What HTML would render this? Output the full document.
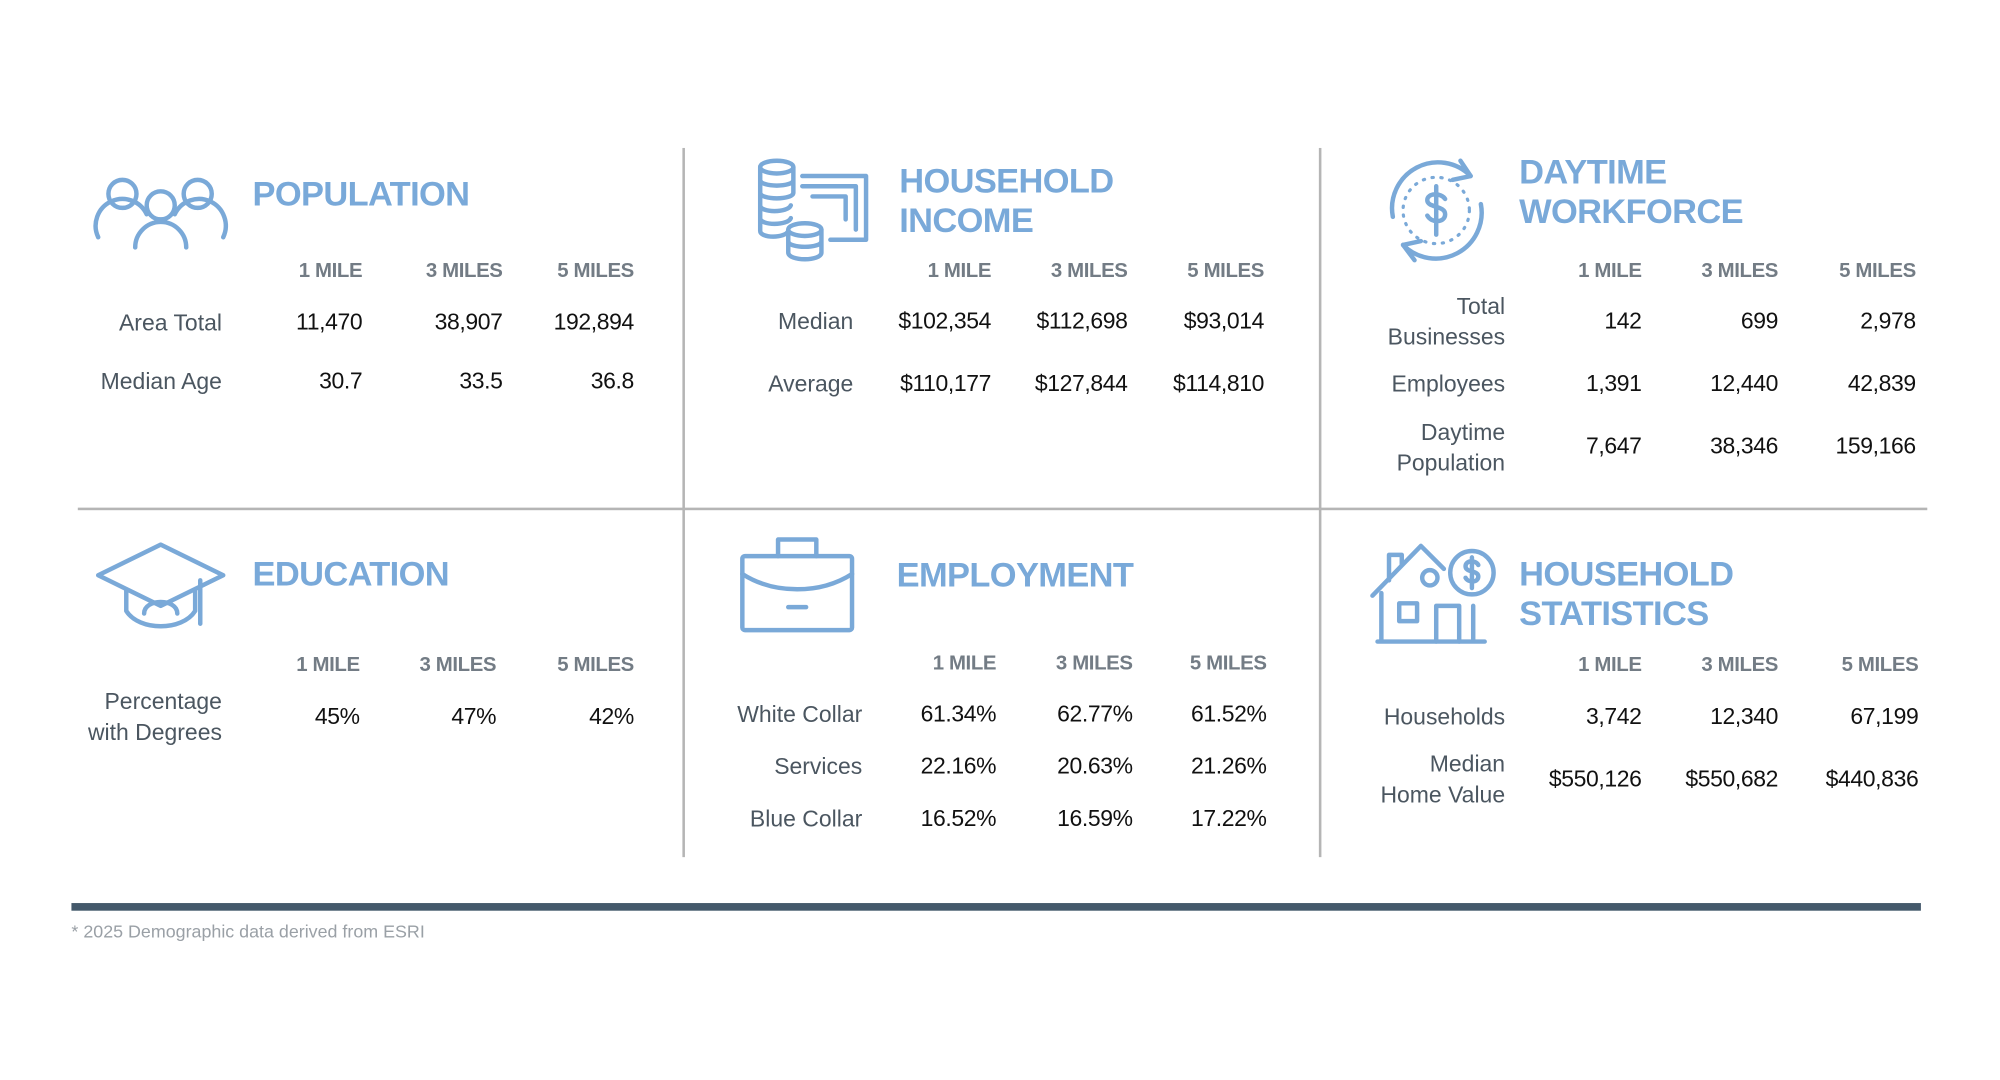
<!DOCTYPE html>
<html><head><meta charset="utf-8"><style>
html,body{margin:0;padding:0;background:#fff;}
body{width:2000px;height:1080px;overflow:hidden;position:relative;}
#w{position:absolute;left:0;top:0;width:1568px;height:847px;transform:scale(1.2755);transform-origin:0 0;font-family:"Liberation Sans",sans-serif;}
.t{position:absolute;font-weight:bold;color:#79a9d9;font-size:27px;line-height:31px;letter-spacing:-0.5px;}
.h{position:absolute;color:#737c85;font-size:16px;font-weight:bold;letter-spacing:-0.3px;transform:translate(-100%,-50%);white-space:nowrap;}
.l{position:absolute;color:#4b5660;font-size:18px;line-height:24px;text-align:right;transform:translate(-100%,-50%);white-space:nowrap;}
.v{position:absolute;color:#111;font-size:18px;transform:translate(-100%,-50%);white-space:nowrap;letter-spacing:-0.3px;}
.ln{position:absolute;background:#b5b5b5;}
svg{position:absolute;overflow:visible;}
svg *{fill:none;stroke:#7aa9d8;stroke-width:3.5;stroke-linecap:round;stroke-linejoin:round;}
</style></head><body><div id="w">
<div class="ln" style="left:535px;top:116px;width:2px;height:556px"></div>
<div class="ln" style="left:1034px;top:116px;width:2px;height:556px"></div>
<div class="ln" style="left:61px;top:398px;width:1450px;height:2px"></div>
<div style="position:absolute;left:56px;top:708px;width:1450px;height:6px;background:#44596b"></div>
<div style="position:absolute;left:56px;top:722px;font-size:14px;color:#9aa0a6">* 2025 Demographic data derived from ESRI</div>

<!-- Population -->
<svg style="left:75px;top:136px" width="103" height="62"><circle cx="21" cy="16" r="11"/><circle cx="80" cy="16" r="11"/><circle cx="51" cy="25" r="11"/><path d="M2 50 A20 20 0 0 1 40 32"/><path d="M100 50 A20 20 0 0 0 62 32"/><path d="M31 58 A20 20 0 0 1 71 58"/></svg>
<div class="t" style="left:198px;top:137px">POPULATION</div>
<div class="h" style="left:284px;top:213px">1 MILE</div><div class="h" style="left:394px;top:213px">3 MILES</div><div class="h" style="left:497px;top:213px">5 MILES</div>
<div class="l" style="left:174px;top:253px">Area Total</div><div class="v" style="left:284px;top:253px">11,470</div><div class="v" style="left:394px;top:253px">38,907</div><div class="v" style="left:497px;top:253px">192,894</div>
<div class="l" style="left:174px;top:299px">Median Age</div><div class="v" style="left:284px;top:299px">30.7</div><div class="v" style="left:394px;top:299px">33.5</div><div class="v" style="left:497px;top:299px">36.8</div>

<!-- Household income -->
<svg style="left:593px;top:124px" width="88" height="80"><ellipse cx="16" cy="7" rx="13" ry="5"/><path d="M3 7v50M29 7v20M3 17c0 6 26 6 26 0M3 27c0 6 26 6 26 0M3 37c0 6 22 6 24 0M3 47c0 6 22 6 24 0M3 57c0 6 20 6 22 0"/><path d="M36 14h50v50H58M36 22h42v34M44 30h26v18"/><ellipse cx="38" cy="56" rx="13" ry="5"/><path d="M25 56v18c0 7 26 7 26 0V56M25 65c0 6 26 6 26 0"/></svg>
<div class="t" style="left:705px;top:127px">HOUSEHOLD<br>INCOME</div>
<div class="h" style="left:777px;top:213px">1 MILE</div><div class="h" style="left:884px;top:213px">3 MILES</div><div class="h" style="left:991px;top:213px">5 MILES</div>
<div class="l" style="left:669px;top:252px">Median</div><div class="v" style="left:777px;top:252px">$102,354</div><div class="v" style="left:884px;top:252px">$112,698</div><div class="v" style="left:991px;top:252px">$93,014</div>
<div class="l" style="left:669px;top:301px">Average</div><div class="v" style="left:777px;top:301px">$110,177</div><div class="v" style="left:884px;top:301px">$127,844</div><div class="v" style="left:991px;top:301px">$114,810</div>

<!-- Daytime workforce -->
<svg style="left:1087px;top:124px" width="80" height="82"><path d="M5 46 A36 36 0 0 1 66 14"/><path d="M58 2l8 12-14 3"/><path d="M74 36 A36 36 0 0 1 13 68"/><path d="M22 80l-9-12 14-3"/><circle cx="39" cy="41" r="26" style="stroke-dasharray:1 6;stroke-width:2.5"/><path d="M46 32c-3-5-14-5-14 1s14 4 14 11-11 7-14 1M39 22v38"/></svg>
<div class="t" style="left:1191px;top:120px">DAYTIME<br>WORKFORCE</div>
<div class="h" style="left:1287px;top:213px">1 MILE</div><div class="h" style="left:1394px;top:213px">3 MILES</div><div class="h" style="left:1502px;top:213px">5 MILES</div>
<div class="l" style="left:1180px;top:252px">Total<br>Businesses</div><div class="v" style="left:1287px;top:252px">142</div><div class="v" style="left:1394px;top:252px">699</div><div class="v" style="left:1502px;top:252px">2,978</div>
<div class="l" style="left:1180px;top:301px">Employees</div><div class="v" style="left:1287px;top:301px">1,391</div><div class="v" style="left:1394px;top:301px">12,440</div><div class="v" style="left:1502px;top:301px">42,839</div>
<div class="l" style="left:1180px;top:351px">Daytime<br>Population</div><div class="v" style="left:1287px;top:350px">7,647</div><div class="v" style="left:1394px;top:350px">38,346</div><div class="v" style="left:1502px;top:350px">159,166</div>

<!-- Education -->
<svg style="left:75px;top:425px" width="102" height="70"><path d="M2 26L51 2l49 24-49 24z"/><path d="M24 38v16c10 16 44 16 54 0V38"/><path d="M38 56c0-12 26-12 26 0"/><path d="M82 30v34"/></svg>
<div class="t" style="left:198px;top:435px">EDUCATION</div>
<div class="h" style="left:282px;top:522px">1 MILE</div><div class="h" style="left:389px;top:522px">3 MILES</div><div class="h" style="left:497px;top:522px">5 MILES</div>
<div class="l" style="left:174px;top:562px">Percentage<br>with Degrees</div><div class="v" style="left:282px;top:562px">45%</div><div class="v" style="left:389px;top:562px">47%</div><div class="v" style="left:497px;top:562px">42%</div>

<!-- Employment -->
<svg style="left:580px;top:420px" width="90" height="76"><rect x="2" y="16" width="86" height="58" rx="2"/><path d="M30 16V3h30v13M2 30c25 16 61 16 86 0M38 56h14"/></svg>
<div class="t" style="left:703px;top:436px">EMPLOYMENT</div>
<div class="h" style="left:781px;top:521px">1 MILE</div><div class="h" style="left:888px;top:521px">3 MILES</div><div class="h" style="left:993px;top:521px">5 MILES</div>
<div class="l" style="left:676px;top:560px">White Collar</div><div class="v" style="left:781px;top:560px">61.34%</div><div class="v" style="left:888px;top:560px">62.77%</div><div class="v" style="left:993px;top:560px">61.52%</div>
<div class="l" style="left:676px;top:601px">Services</div><div class="v" style="left:781px;top:601px">22.16%</div><div class="v" style="left:888px;top:601px">20.63%</div><div class="v" style="left:993px;top:601px">21.26%</div>
<div class="l" style="left:676px;top:642px">Blue Collar</div><div class="v" style="left:781px;top:642px">16.52%</div><div class="v" style="left:888px;top:642px">16.59%</div><div class="v" style="left:993px;top:642px">17.22%</div>

<!-- Household statistics -->
<svg style="left:1074px;top:425px" width="100" height="80"><path d="M2 42L40 3l18 18"/><path d="M15 30V10h10v8"/><path d="M6 78h84M9 40v38M81 50v28"/><rect x="23" y="48" width="14" height="14"/><path d="M52 78V50h18v28"/><circle cx="47" cy="28" r="6"/><circle cx="80" cy="24" r="17"/><path d="M85 18c-2-4-10-4-10 1s10 3 10 8-8 5-10 1M80 12v24"/></svg>
<div class="t" style="left:1191px;top:435px">HOUSEHOLD<br>STATISTICS</div>
<div class="h" style="left:1287px;top:522px">1 MILE</div><div class="h" style="left:1394px;top:522px">3 MILES</div><div class="h" style="left:1504px;top:522px">5 MILES</div>
<div class="l" style="left:1180px;top:562px">Households</div><div class="v" style="left:1287px;top:562px">3,742</div><div class="v" style="left:1394px;top:562px">12,340</div><div class="v" style="left:1504px;top:562px">67,199</div>
<div class="l" style="left:1180px;top:611px">Median<br>Home Value</div><div class="v" style="left:1287px;top:611px">$550,126</div><div class="v" style="left:1394px;top:611px">$550,682</div><div class="v" style="left:1504px;top:611px">$440,836</div>
</div></body></html>
